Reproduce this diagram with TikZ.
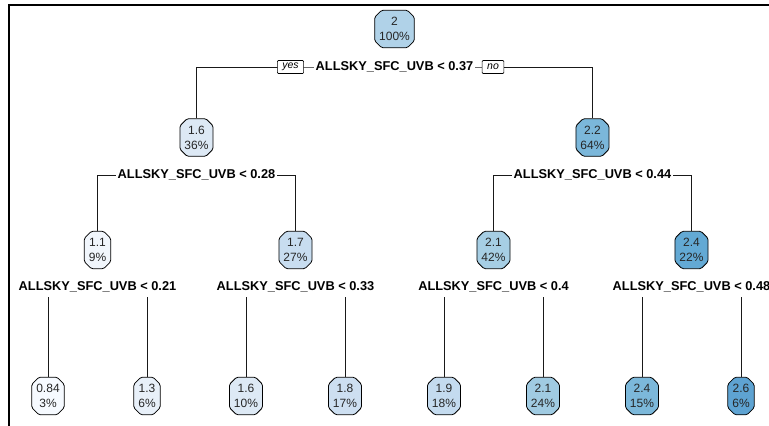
\documentclass[tikz,border=0pt]{standalone}
\usepackage{fontspec}
\setmainfont{Liberation Sans}
\usetikzlibrary{shapes.misc}
\definecolor{cA}{RGB}{176,210,232}
\definecolor{cB}{RGB}{221,233,245}
\definecolor{cC}{RGB}{123,183,218}
\definecolor{cD}{RGB}{241,246,252}
\definecolor{cE}{RGB}{200,221,240}
\definecolor{cF}{RGB}{166,206,228}
\definecolor{cG}{RGB}{99,169,212}
\definecolor{lA}{RGB}{246,250,255}
\definecolor{lB}{RGB}{232,240,249}
\definecolor{lC}{RGB}{221,233,245}
\definecolor{lD}{RGB}{205,223,241}
\definecolor{lE}{RGB}{196,219,239}
\definecolor{lF}{RGB}{160,203,226}
\definecolor{lG}{RGB}{124,184,218}
\definecolor{lH}{RGB}{94,163,210}
\begin{document}
\begin{tikzpicture}[x=1pt,y=1pt,
  tnode/.style={chamfered rectangle, chamfered rectangle xsep=3.5pt, chamfered rectangle ysep=3.5pt,
    draw=black, line width=0.8pt, rounded corners=1.5pt, align=center,
    font=\fontsize{12}{15}\selectfont, text=black!85,
    inner xsep=1pt, inner ysep=3.5pt},
  splitlab/.style={fill=white, font=\bfseries\fontsize{12.8}{14}\selectfont, inner xsep=1.5pt, inner ysep=1pt},
  ynbox/.style={draw, fill=white, line width=0.6pt, font=\itshape\fontsize{10.5}{11}\selectfont,
    rounded corners=1pt, inner xsep=5pt, inner ysep=1.5pt, minimum height=13pt},
  branch/.style={line width=0.8pt, black!90}]
\useasboundingbox (0,0) rectangle (769,-426);
% plot frame
\draw[line width=2pt] (9,-440) -- (9,-5) -- (790,-5);

% nodes of the tree
\node[tnode, fill=cA] (n0) at (394.5,-29) {2\\100\%};
\node[tnode, fill=cB] (n1) at (196.5,-137.5) {1.6\\36\%};
\node[tnode, fill=cC] (n2) at (592.5,-137.5) {2.2\\64\%};
\node[tnode, fill=cD] (n3) at (97.5,-250) {1.1\\9\%};
\node[tnode, fill=cE] (n4) at (295.5,-250) {1.7\\27\%};
\node[tnode, fill=cF] (n5) at (493.5,-250) {2.1\\42\%};
\node[tnode, fill=cG] (n6) at (691.5,-250) {2.4\\22\%};
\node[tnode, fill=lA] (l1) at (48,-396) {0.84\\3\%};
\node[tnode, fill=lB] (l2) at (147,-396) {1.3\\6\%};
\node[tnode, fill=lC] (l3) at (246,-396) {1.6\\10\%};
\node[tnode, fill=lD] (l4) at (345,-396) {1.8\\17\%};
\node[tnode, fill=lE] (l5) at (444,-396) {1.9\\18\%};
\node[tnode, fill=lF] (l6) at (543,-396) {2.1\\24\%};
\node[tnode, fill=lG] (l7) at (642,-396) {2.4\\15\%};
\node[tnode, fill=lH] (l8) at (741,-396) {2.6\\6\%};

% split points
\coordinate (s0) at (394.5,-67);
\coordinate (s1) at (196.5,-175);
\coordinate (s2) at (592.5,-175);
\coordinate (t1) at (48,-297);
\coordinate (t2) at (147,-297);
\coordinate (t3) at (246,-297);
\coordinate (t4) at (345,-297);
\coordinate (t5) at (444,-297);
\coordinate (t6) at (543,-297);
\coordinate (t7) at (642,-297);
\coordinate (t8) at (741,-297);

% branches
\draw[branch] (n1.north) |- (s0) -| (n2.north);
\draw[branch] (n3.north) |- (s1) -| (n4.north);
\draw[branch] (n5.north) |- (s2) -| (n6.north);
\foreach \i in {1,...,8} \draw[branch] (t\i) -- (l\i.north);

% split labels
\node[splitlab] (q0) at (s0) {ALLSKY\_SFC\_UVB < 0.37};
\node[ynbox] (yes) at (290.5,-67) {yes};
\node[ynbox] (no) at (493,-67) {no};
\node[splitlab] (q1) at (s1) {ALLSKY\_SFC\_UVB < 0.28};
\node[splitlab] (q2) at (s2) {ALLSKY\_SFC\_UVB < 0.44};
\node[splitlab] (q3) at (97.5,-287) {ALLSKY\_SFC\_UVB < 0.21};
\node[splitlab] (q4) at (295.5,-287) {ALLSKY\_SFC\_UVB < 0.33};
\node[splitlab] (q5) at (493.5,-287) {ALLSKY\_SFC\_UVB < 0.4};
\node[splitlab] (q6) at (691.5,-287) {ALLSKY\_SFC\_UVB < 0.48};
\end{tikzpicture}
\end{document}
